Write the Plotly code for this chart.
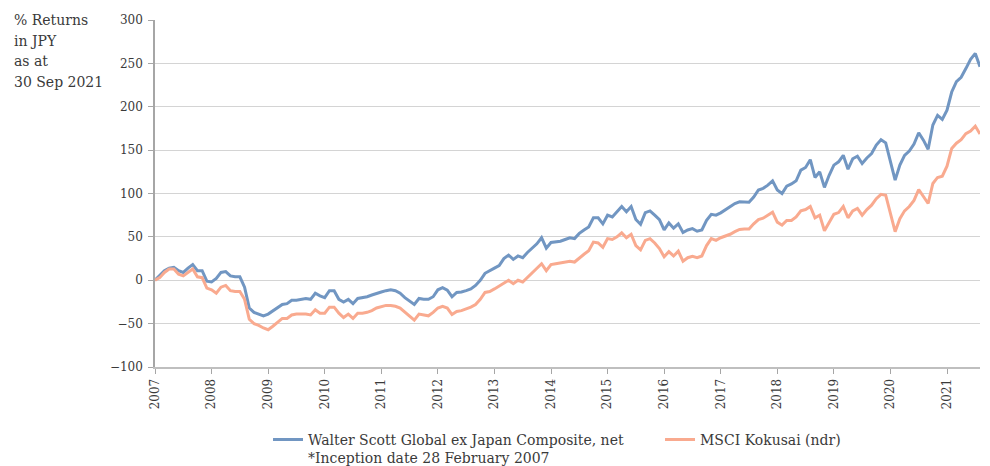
import plotly.graph_objects as go

# Monthly index: 0 = Feb 2007 (inception) ... 175 = Sep 2021
year_labels = [str(y) for y in range(2007, 2022)]
year_positions = [12 * i for i in range(len(year_labels))]

walter_scott = [
    0, 5, 11, 14, 15, 11, 9, 14, 18, 11, 11, -1,
    -2, 2, 9, 10, 5, 4, 4, -8, -32, -37, -39, -41,
    -39, -35, -31, -28, -27, -23, -23, -22, -21, -22, -15, -18,
    -20, -12, -12, -22, -25, -22, -27, -21, -20, -19, -17, -15,
    -13.5, -12, -11, -12, -15, -20, -24, -28, -21, -22, -22, -19,
    -11, -8.5, -11.5, -19, -14, -13.5, -12, -10, -6, 0, 8, 11.5,
    14, 17, 25, 29, 24, 28, 26, 32, 36.5, 42, 49, 37,
    43.5, 44, 45, 47, 49, 48, 54, 58, 61.5, 72, 72, 65,
    75, 73, 79, 85, 79, 85, 70, 64.5, 78, 80, 75, 70,
    58, 66, 60, 65, 55, 58, 59.5, 56.5, 58, 69, 76, 75,
    77.7, 81, 85, 88.5, 90.4, 90, 90, 96, 104, 106, 109.6, 114.6,
    104, 100, 108.5, 111, 114.6, 127, 130, 139, 118.5, 125, 107, 121,
    132.7, 136.5, 144, 128, 140, 143, 134.6, 141, 146, 155.8, 162, 158.4,
    138.5, 115.4, 132.7, 144, 149, 157, 170, 161.5, 151, 179, 190, 185.4,
    196, 217, 229, 234, 244, 254.6, 261.5, 246,
]

msci_kokusai = [
    0, 3, 9, 13, 13, 7, 5, 9, 13, 4, 3, -9,
    -11, -15, -8, -6, -12, -13, -13, -22, -45, -50, -52, -55,
    -57, -53, -48, -44, -44, -40, -39, -39, -39, -40, -34, -38,
    -38, -31, -31, -38, -43, -39, -44, -38, -38, -37, -35, -32,
    -30.5, -29, -29, -30, -32, -37, -42, -46, -39, -40, -41, -37,
    -32, -30, -32, -39.5, -36, -35, -33, -31, -28, -22, -14, -13,
    -10, -7, -3, 0, -4, 0, -2, 3, 8, 13, 19, 11,
    18, 19, 20, 21, 22, 21, 26, 30, 34, 44, 43, 38,
    48, 47, 50, 54.6, 49, 53, 40, 35, 46, 48, 43, 36.5,
    27, 33, 28, 33.5, 22, 26, 27.7, 26, 28, 40, 48, 46,
    49, 51, 53, 56, 58.5, 59, 59, 65, 70, 71.5, 75, 78.5,
    67, 63.5, 69, 69, 73, 80, 81.5, 85, 72, 75, 57, 67,
    76, 78, 85, 72, 80, 82.7, 75, 81.5, 86.5, 94, 99, 98,
    77, 56, 71, 80, 85, 92, 104.6, 97, 88.5, 111.5, 118.5, 120,
    131.5, 152, 158, 162, 169, 172, 177.7, 168.5,
]

title_lines = ["% Returns", "in JPY", "as at", "30 Sep 2021"]

months = list(range(len(walter_scott)))

FONT = "DejaVu Serif"
TXT = "#3a3a3a"

fig = go.Figure()
fig.add_trace(go.Scatter(
    x=months, y=walter_scott, mode="lines",
    name="Walter Scott Global ex Japan Composite, net<br>*Inception date 28 February 2007",
    line=dict(color="#7196c2", width=3),
))
fig.add_trace(go.Scatter(
    x=months, y=msci_kokusai, mode="lines",
    name="MSCI Kokusai (ndr)",
    line=dict(color="#f9aa8f", width=3),
))

annotations = []
for i, line in enumerate(title_lines):
    annotations.append(dict(
        text=line, xref="paper", yref="paper", x=-0.1733, y=1.0 - i * 0.0595,
        xanchor="left", yanchor="middle", align="left", showarrow=False,
        font=dict(family=FONT, size=14, color=TXT),
    ))

# page body has an 8px default margin, so the figure is sized to fit the window
fig.update_layout(
    width=982, height=458,
    margin=dict(l=147, r=10, t=12, b=99, autoexpand=False),
    paper_bgcolor="white", plot_bgcolor="white",
    font=dict(family=FONT, size=12, color=TXT),
    showlegend=True,
    legend=dict(
        orientation="h", x=0.137, xanchor="left", y=-0.164, yanchor="top",
        font=dict(family=FONT, size=14, color=TXT),
        valign="top", itemwidth=30, entrywidth=347, entrywidthmode="pixels",
    ),
    xaxis=dict(
        range=[0, 175], tickmode="array", tickvals=year_positions, ticktext=year_labels,
        tickangle=-90, ticks="outside", ticklen=5, tickcolor="#a6a6a6",
        showgrid=False, zeroline=False, automargin=False,
        showline=True, linecolor="#bfbfbf", linewidth=2,
        tickfont=dict(family=FONT, size=12, color=TXT),
    ),
    yaxis=dict(
        range=[-100, 300], dtick=50, ticks="outside", ticklen=5, tickcolor="#a6a6a6",
        showgrid=True, gridcolor="#d4d4d4", gridwidth=1, zeroline=False, automargin=False,
        showline=True, linecolor="#a6a6a6", linewidth=1.5, ticklabelstandoff=3,
        tickfont=dict(family=FONT, size=12, color=TXT),
    ),
    annotations=annotations,
)

fig.write_html("out.html")
